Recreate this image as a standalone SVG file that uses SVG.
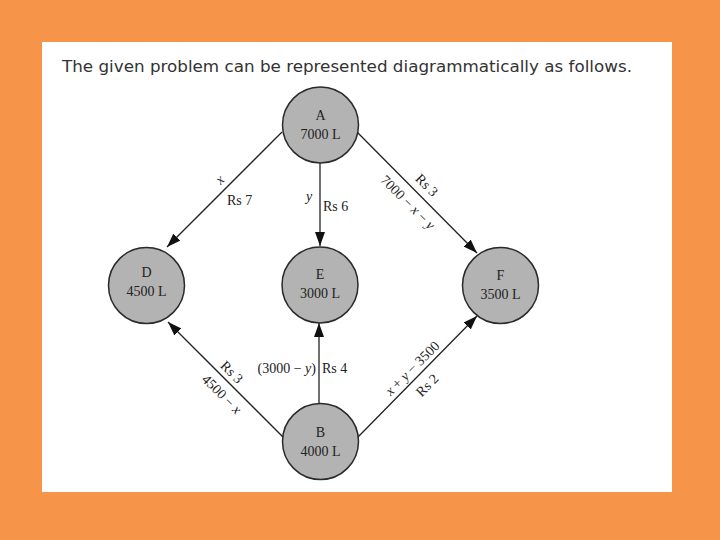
<svg xmlns="http://www.w3.org/2000/svg" width="720" height="540" viewBox="0 0 720 540">
<defs>
<style>
.node circle{fill:#b3b3b3;stroke:#2a2a2a;stroke-width:1.5}
.node text{font-family:"Liberation Serif","Times New Roman",serif;font-size:14px;fill:#222;text-anchor:middle}
.edge{stroke:#222;stroke-width:1.3;fill:none;marker-end:url(#arr)}
.lbl{font-family:"Liberation Serif","Times New Roman",serif;font-size:14px;fill:#222}
.it{font-style:italic}
.title{font-family:"DejaVu Sans","Verdana",sans-serif;font-size:15px;fill:#333}
</style>
<marker id="arr" viewBox="0 0 14 10" refX="14" refY="5" markerWidth="14" markerHeight="10" markerUnits="userSpaceOnUse" orient="auto">
<path d="M0,0 L14,5 L0,10 Z" fill="#111"/>
</marker>
</defs>
<rect x="0" y="0" width="720" height="540" fill="#f6954a"/>
<rect x="42" y="42" width="630" height="450" fill="#ffffff"/>
<text class="title" x="62" y="72" textLength="570" lengthAdjust="spacingAndGlyphs">The given problem can be represented diagrammatically as follows.</text>

<g id="connectors">
<line class="edge" x1="282" y1="132" x2="167" y2="247"/>
<line class="edge" x1="320" y1="163" x2="320" y2="246"/>
<line class="edge" x1="358" y1="133" x2="477" y2="253"/>
<line class="edge" x1="283" y1="437" x2="168" y2="322"/>
<line class="edge" x1="319" y1="403" x2="319" y2="323"/>
<line class="edge" x1="358" y1="437" x2="477" y2="316"/>
<text class="lbl it" transform="translate(220,180) rotate(-45)" text-anchor="middle" y="4">x</text>
<text class="lbl" x="227" y="205">Rs 7</text>
<text class="lbl it" x="306" y="201">y</text>
<text class="lbl" x="323" y="211">Rs 6</text>
<text class="lbl" transform="translate(427,185) rotate(45)" text-anchor="middle" y="5">Rs 3</text>
<text class="lbl" transform="translate(408,202) rotate(45)" text-anchor="middle" y="5">7000 − <tspan class="it">x</tspan> − <tspan class="it">y</tspan></text>
<text class="lbl" transform="translate(232,372) rotate(45)" text-anchor="middle" y="5">Rs 3</text>
<text class="lbl" transform="translate(222,394) rotate(45)" text-anchor="middle" y="5">4500 − <tspan class="it">x</tspan></text>
<text class="lbl" x="316" y="373" text-anchor="end">(3000 − <tspan class="it">y</tspan>)</text>
<text class="lbl" x="322" y="373">Rs 4</text>
<text class="lbl" transform="translate(412,368) rotate(-45)" text-anchor="middle" y="5"><tspan class="it">x</tspan> + <tspan class="it">y</tspan> − 3500</text>
<text class="lbl" transform="translate(427,385) rotate(-45)" text-anchor="middle" y="5">Rs 2</text>
</g>

<g id="A" class="node"><circle cx="320.5" cy="125" r="38"/><text x="320.5" y="120">A</text><text x="320.5" y="139">7000 L</text></g>
<g id="D" class="node"><circle cx="146.5" cy="285.5" r="38"/><text x="146.5" y="277">D</text><text x="146.5" y="296">4500 L</text></g>
<g id="E" class="node"><circle cx="320" cy="285" r="38"/><text x="320" y="279">E</text><text x="320" y="298">3000 L</text></g>
<g id="F" class="node"><circle cx="500.5" cy="285.5" r="38"/><text x="500.5" y="280">F</text><text x="500.5" y="299">3500 L</text></g>
<g id="B" class="node"><circle cx="320.5" cy="441.5" r="38"/><text x="320.5" y="437">B</text><text x="320.5" y="456">4000 L</text></g>
</svg>
